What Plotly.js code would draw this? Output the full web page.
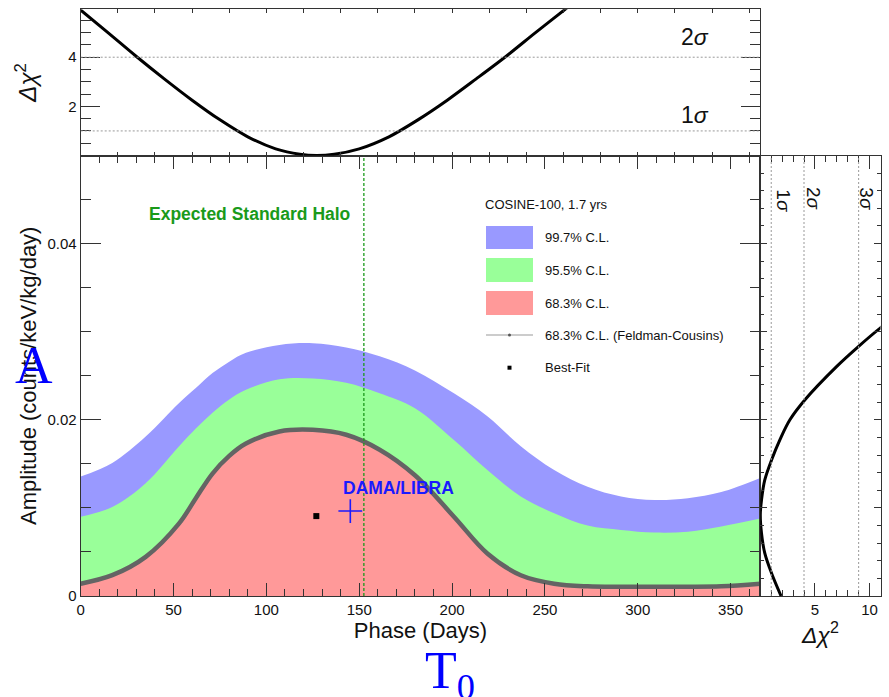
<!DOCTYPE html>
<html><head><meta charset="utf-8">
<script src="https://cdn.plot.ly/plotly-3.0.1.min.js"></script>
<style>html,body{margin:0;padding:0;background:#fff}#c{width:889px;height:697px}</style>
</head><body><div id="c"></div>
<script>
// ---- data ----
const phase   = [0, 17, 35, 53, 62, 71, 80, 89, 107, 125, 143, 161, 180, 201, 219, 237, 255, 273, 291, 309, 327, 345, 366];
const cl997   = [0.01355,0.0151,0.0181,0.0219,0.0236,0.0253,0.0266,0.0276,0.0285,0.0287,0.0282,0.0272,0.0256,0.0230,0.0204,0.0170,0.0143,0.0124,0.0113,0.0109,0.0111,0.0118,0.0134];
const cl955   = [0.0090,0.0101,0.0128,0.0170,0.0190,0.0208,0.0223,0.0234,0.0246,0.0247,0.0242,0.0230,0.0213,0.0177,0.0143,0.0113,0.0094,0.0080,0.0075,0.0072,0.0073,0.0079,0.0088];
const clFC683 = [0.0014,0.00236,0.00444,0.00824,0.0111,0.0139,0.0159,0.0173,0.01867,0.01886,0.0183,0.0166,0.0137,0.0090,0.00483,0.00236,0.0014,0.0011,0.00105,0.00105,0.00105,0.0011,0.0014];

const bestFit = {phase:[126.9], amp:[0.00907]};
const dama    = {phase:[145.2], amp:[0.00964]};
const haloPhase = 152.5;

const topPhase = [0, 15, 30, 45, 60, 75, 90, 105, 118, 127, 136.5, 150, 166, 181.6, 197.4, 213, 229, 244.6, 260.4, 270];
const topDchi  = [5.92, 4.98, 4.03, 3.12, 2.25, 1.45, 0.76, 0.27, 0.05, 0, 0.05, 0.27, 0.76, 1.45, 2.25, 3.12, 4.03, 4.98, 5.92, 6.5];

const rightAmp  = [0.0, 0.00258, 0.00486, 0.00714, 0.0092, 0.01089, 0.01317, 0.01544, 0.01772, 0.0200, 0.02228, 0.02607, 0.02834, 0.03044, 0.0310];
const rightDchi = [1.9, 1.03, 0.41, 0.11, 0.0, 0.11, 0.41, 1.03, 1.79, 2.71, 4.09, 7.0, 9.0, 11.0, 11.6];

const sigmaLevels = [1, 4, 9];
const sigmaNames  = ['1σ', '2σ', '3σ'];
const legendLabels = ['99.7% C.L.', '95.5% C.L.', '68.3% C.L.', '68.3% C.L. (Feldman-Cousins)', 'Best-Fit'];
const legendTitle = 'COSINE-100, 1.7 yrs';

// ---- helpers (pixel -> paper) ----
const W = 889, H = 697;
const px = x => x / W;
const py = y => 1 - y / H;
const FONT = 'Liberation Sans, Arial, Helvetica, sans-serif';
const SERIF = 'Liberation Serif, Times New Roman, serif';
const AX = '#333';
const BLUE = '#9999ff', GREEN = '#99ff99', RED = '#ff9999', GRAY = '#646464', HALO = '#1a9a1a';

const traces = [
  {x: phase, y: cl997, xaxis:'x', yaxis:'y', mode:'lines', fill:'tozeroy', fillcolor:BLUE, line:{width:0, shape:'spline', color:BLUE}, hoverinfo:'skip', showlegend:false},
  {x: phase, y: cl955, xaxis:'x', yaxis:'y', mode:'lines', fill:'tozeroy', fillcolor:GREEN, line:{width:0, shape:'spline', color:GREEN}, hoverinfo:'skip', showlegend:false},
  {x: phase, y: clFC683, xaxis:'x', yaxis:'y', mode:'lines', fill:'tozeroy', fillcolor:RED, line:{width:0, shape:'spline', color:RED}, hoverinfo:'skip', showlegend:false},
  {x: phase, y: clFC683, xaxis:'x', yaxis:'y', mode:'lines', line:{width:4.5, shape:'spline', color:GRAY}, hoverinfo:'skip', showlegend:false},
  {x: bestFit.phase, y: bestFit.amp, xaxis:'x', yaxis:'y', mode:'markers', marker:{symbol:'square', size:6, color:'#000'}, showlegend:false},
  {x: dama.phase, y: dama.amp, xaxis:'x', yaxis:'y', mode:'markers', marker:{symbol:'cross-thin', size:17, line:{color:'#1a1aff', width:1.6}}, showlegend:false},
  {x: topPhase, y: topDchi, xaxis:'x2', yaxis:'y2', mode:'lines', line:{width:3, shape:'spline', smoothing:0.8, color:'#000'}, hoverinfo:'skip', showlegend:false},
  {x: rightDchi, y: rightAmp, xaxis:'x3', yaxis:'y3', mode:'lines', line:{width:3, shape:'spline', color:'#000'}, hoverinfo:'skip', showlegend:false}
];

const tickfont = {family: FONT, size: 15, color: '#111'};
const titlefont = {family: FONT, size: 22, color: '#111'};
const chifont = {family: FONT, size: 24, color: '#111'};
const common = {showgrid:false, zeroline:false, showline:true, linecolor:AX, linewidth:1, ticks:'inside', tickcolor:AX, tickwidth:1, mirror:'ticks'};

const shapes = [];
shapes.push({type:'line', xref:'x', yref:'y', x0:haloPhase, x1:haloPhase, y0:0, y1:0.05, line:{color:HALO, width:1.3, dash:'3px,2px'}});
[1,4].forEach(v => shapes.push({type:'line', xref:'x2', yref:'y2', x0:0, x1:366, y0:v, y1:v, line:{color:'#999', width:1, dash:'2px,2px'}}));
sigmaLevels.forEach(v => shapes.push({type:'line', xref:'x3', yref:'y3', x0:v, x1:v, y0:0, y1:0.05, line:{color:'#999', width:1, dash:'2px,2px'}}));
// legend swatches
[[226,249,BLUE],[258,282,GREEN],[291,315,RED]].forEach(r => shapes.push({type:'rect', xref:'paper', yref:'paper', x0:px(486), x1:px(533), y0:py(r[1]), y1:py(r[0]), fillcolor:r[2], line:{width:0}}));
shapes.push({type:'line', xref:'paper', yref:'paper', x0:px(486), x1:px(533), y0:py(335), y1:py(335), line:{color:'#999', width:1}});
shapes.push({type:'circle', xref:'paper', yref:'paper', x0:px(508), x1:px(511), y0:py(336.5), y1:py(333.5), fillcolor:'#555', line:{width:0}});
shapes.push({type:'rect', xref:'paper', yref:'paper', x0:px(507.5), x1:px(511.5), y0:py(369.7), y1:py(365.7), fillcolor:'#000', line:{width:0}});

const ann = [];
function txt(t, x, y, opts) { ann.push(Object.assign({text:t, x:px(x), y:py(y), xref:'paper', yref:'paper', showarrow:false, xanchor:'center', yanchor:'middle', font:{family:FONT, size:13, color:'#111'}}, opts||{})); }
txt('<b>Expected Standard Halo</b>', 249.5, 214, {font:{family:FONT, size:17.5, color:HALO}});
txt('<b>DAMA/LIBRA</b>', 398.5, 488, {font:{family:FONT, size:17.5, color:'#1a1aff'}});
txt(legendTitle, 482.7, 204, {xanchor:'left'});
[237.5, 270, 303, 335, 367.7].forEach((y,i) => txt(legendLabels[i], 542.7, y, {xanchor:'left'}));
txt('2<i>σ</i>', 695, 37, {font:{family:FONT, size:23, color:'#111'}});
txt('1<i>σ</i>', 695, 115, {font:{family:FONT, size:23, color:'#111'}});
[[782.7,201],[814,199],[866.7,199]].forEach((p,i) => txt(sigmaNames[i].replace('σ','<i>σ</i>'), p[0], p[1], {textangle:90, font:{family:FONT, size:19, color:'#111'}}));
txt('A', 33.7, 365, {font:{family:SERIF, size:52, color:'#0000ff'}});
txt('T<sub>0</sub>', 450, 640, {yanchor:'top', font:{family:SERIF, size:52, color:'#0000ff'}});

const layout = {
  width: W, height: H,
  margin: {l:0, r:0, t:0, b:0},
  paper_bgcolor: '#fff', plot_bgcolor: '#fff',
  showlegend: false,
  xaxis: Object.assign({}, common, {domain:[px(80.7), px(760.3)], anchor:'y', range:[0,366], tickmode:'linear', tick0:0, dtick:50, ticklen:13,
    minor:{ticks:'inside', dtick:10, tick0:0, ticklen:7, tickcolor:AX}, tickfont:tickfont,
    title:{text:'Phase (Days)', font:titlefont, standoff:1}}),
  yaxis: Object.assign({}, common, {domain:[py(596), py(155.5)], anchor:'x', range:[0,0.05], tickmode:'linear', tick0:0, dtick:0.02, ticklen:20,
    minor:{ticks:'inside', dtick:0.005, tick0:0, ticklen:10, tickcolor:AX}, tickfont:tickfont,
    title:{text:'Amplitude (counts/keV/kg/day)', font:titlefont, standoff:4}}),
  xaxis2: Object.assign({}, common, {domain:[px(80.7), px(760.3)], anchor:'y2', range:[0,366], tickmode:'linear', tick0:0, dtick:20, ticklen:4, showticklabels:false}),
  yaxis2: Object.assign({}, common, {domain:[py(155.5), py(9.3)], anchor:'x2', range:[0,5.95], tickmode:'array', tickvals:[2,4], ticktext:['2','4'], ticklen:19,
    minor:{ticks:'inside', tickmode:'array', tickvals:[0.5,1,1.5,2.5,3,3.5,4.5,5,5.5], ticklen:10, tickcolor:AX}, tickfont:tickfont,
    title:{text:'<i>Δχ</i><sup>2</sup>', font:chifont, standoff:24}}),
  xaxis3: Object.assign({}, common, {domain:[px(760.3), px(880.5)], anchor:'y3', range:[0,11], tickmode:'array', tickvals:[5,10], ticktext:['5','10'], ticklen:13,
    minor:{ticks:'inside', tickmode:'array', tickvals:[0,1,2,3,4,6,7,8,9,11], ticklen:6, tickcolor:AX}, tickfont:tickfont,
    title:{text:'<i>Δχ</i><sup>2</sup>', font:{family:FONT, size:23, color:'#111'}, standoff:2}}),
  yaxis3: Object.assign({}, common, {domain:[py(596), py(155.5)], anchor:'x3', side:'right', range:[0,0.05], tickmode:'linear', tick0:0, dtick:0.01, ticklen:7, showticklabels:false,
    minor:{ticks:'inside', dtick:0.002, tick0:0, ticklen:4, tickcolor:AX}}),
  shapes: shapes,
  annotations: ann
};

Plotly.newPlot('c', traces, layout, {staticPlot:true, displayModeBar:false});
</script>
</body></html>
